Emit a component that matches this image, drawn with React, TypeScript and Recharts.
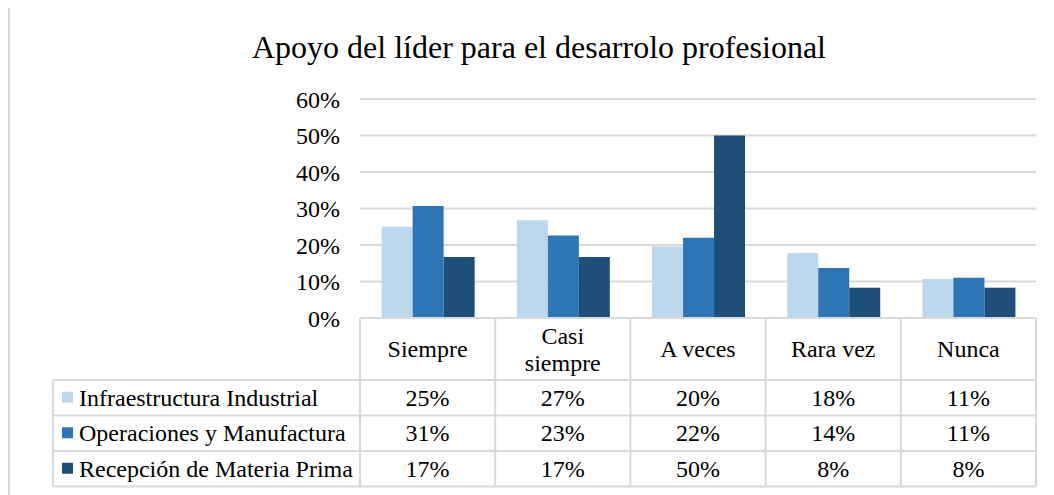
import { BarChart, Bar, XAxis, YAxis, CartesianGrid } from 'recharts'

const categories = ['Siempre', 'Casi siempre', 'A veces', 'Rara vez', 'Nunca']
const categoryLines = [['Siempre'], ['Casi', 'siempre'], ['A veces'], ['Rara vez'], ['Nunca']]
const seriesNames = ['Infraestructura Industrial', 'Operaciones y Manufactura', 'Recepción de Materia Prima']
const seriesKeys = ['infra', 'ops', 'rec']
const seriesColors = ['#BDD7EE', '#2E75B6', '#1F4E79']

const infraValues = [0.25, 0.268, 0.196, 0.178, 0.107]
const opsValues = [0.307, 0.226, 0.22, 0.137, 0.11]
const recValues = [0.167, 0.167, 0.5, 0.083, 0.083]
const yTicks = [0, 0.1, 0.2, 0.3, 0.4, 0.5, 0.6]

const data = categories.map((name, i) => ({
  name,
  infra: infraValues[i],
  ops: opsValues[i],
  rec: recValues[i],
}))

const W = 1040
const H = 487
const M = { top: 91, right: 12, bottom: 9, left: 0 }
const Y_AXIS_W = 352
const PLOT_LEFT = M.left + Y_AXIS_W
const PLOT_RIGHT = W - M.right
const BAND = (PLOT_RIGHT - PLOT_LEFT) / categories.length
const HEADER_H = 62
const ROW_H = 35.5
const LEGEND_LEFT = 45
const FONT = '"Times New Roman", "Liberation Serif", Tinos, Times, serif'
const BORDER = '#d9d9d9'

const pct = (v: number) => `${Math.round(v * 100)}%`

function TableTick(props: any) {
  const { x, y, index } = props
  const top = y
  const left = x - BAND / 2
  const right = x + BAND / 2
  const rowsTop = top + HEADER_H
  const bottom = rowsTop + ROW_H * 3
  const lines = categoryLines[index] || []
  const values = [infraValues, opsValues, recValues]

  return (
    <g fontFamily={FONT} fontSize={24} fill="#000" style={{ fontFamily: FONT }}>
      {index === 0 && (
        <g>
          <line x1={left} y1={top} x2={left} y2={bottom} stroke={BORDER} strokeWidth={2} />
          <line x1={LEGEND_LEFT} y1={rowsTop} x2={LEGEND_LEFT} y2={bottom} stroke={BORDER} strokeWidth={2} />
          {[0, 1, 2, 3].map(r => (
            <line key={r} x1={LEGEND_LEFT} y1={rowsTop + r * ROW_H} x2={left} y2={rowsTop + r * ROW_H} stroke={BORDER} strokeWidth={2} />
          ))}
          {seriesNames.map((s, r) => {
            const cy = rowsTop + r * ROW_H + ROW_H / 2
            return (
              <g key={s}>
                <rect x={LEGEND_LEFT + 9} y={cy - 6} width={11} height={11} fill={seriesColors[r]} />
                <text x={LEGEND_LEFT + 26} y={cy} dominantBaseline="central" textAnchor="start" fill="#000">{s}</text>
              </g>
            )
          })}
        </g>
      )}
      <line x1={right} y1={top} x2={right} y2={bottom} stroke={BORDER} strokeWidth={2} />
      {[0, 1, 2, 3].map(r => (
        <line key={r} x1={left} y1={rowsTop + r * ROW_H} x2={right} y2={rowsTop + r * ROW_H} stroke={BORDER} strokeWidth={2} />
      ))}
      {lines.map((l, k) => (
        <text
          key={l}
          x={x}
          y={top + HEADER_H / 2 + (k - (lines.length - 1) / 2) * 27}
          textAnchor="middle"
          dominantBaseline="central"
          fill="#000"
        >
          {l}
        </text>
      ))}
      {values.map((vals, r) => (
        <text
          key={r}
          x={x}
          y={rowsTop + r * ROW_H + ROW_H / 2}
          textAnchor="middle"
          dominantBaseline="central"
          fill="#000"
        >
          {pct(vals[index])}
        </text>
      ))}
    </g>
  )
}

export default function App() {
  return (
    <div style={{ position: 'relative', width: W, height: H, fontFamily: FONT }}>
      <div style={{ position: 'absolute', left: 0, top: 0, width: 2, height: H, background: BORDER }} />
      <div
        style={{
          position: 'absolute',
          left: 0,
          top: 20,
          width: 1062,
          textAlign: 'center',
          fontSize: 32,
          color: '#000',
          lineHeight: '38px',
          fontFamily: FONT,
        }}
      >
        Apoyo del líder para el desarrolo profesional
      </div>
      <BarChart
        width={W}
        height={H}
        data={data}
        margin={M}
        barCategoryGap="16%"
        barGap={0}
        style={{ position: 'absolute', left: 0, top: 0 }}
      >
        <CartesianGrid vertical={false} stroke={BORDER} strokeWidth={2} />
        <YAxis
          width={Y_AXIS_W}
          domain={[0, 0.6]}
          ticks={yTicks}
          tickFormatter={pct}
          axisLine={false}
          tickLine={false}
          tickSize={0}
          tickMargin={20}
          tick={{ fill: '#000', fontSize: 24, fontFamily: FONT }}
        />
        <XAxis
          dataKey="name"
          interval={0}
          height={H - M.top - M.bottom - 219}
          axisLine={{ stroke: BORDER, strokeWidth: 2 }}
          tickLine={false}
          tickSize={0}
          tickMargin={0}
          tick={<TableTick />}
        />
        {seriesKeys.map((k, i) => (
          <Bar key={k} dataKey={k} name={seriesNames[i]} fill={seriesColors[i]} isAnimationActive={false} />
        ))}
      </BarChart>
    </div>
  )
}
